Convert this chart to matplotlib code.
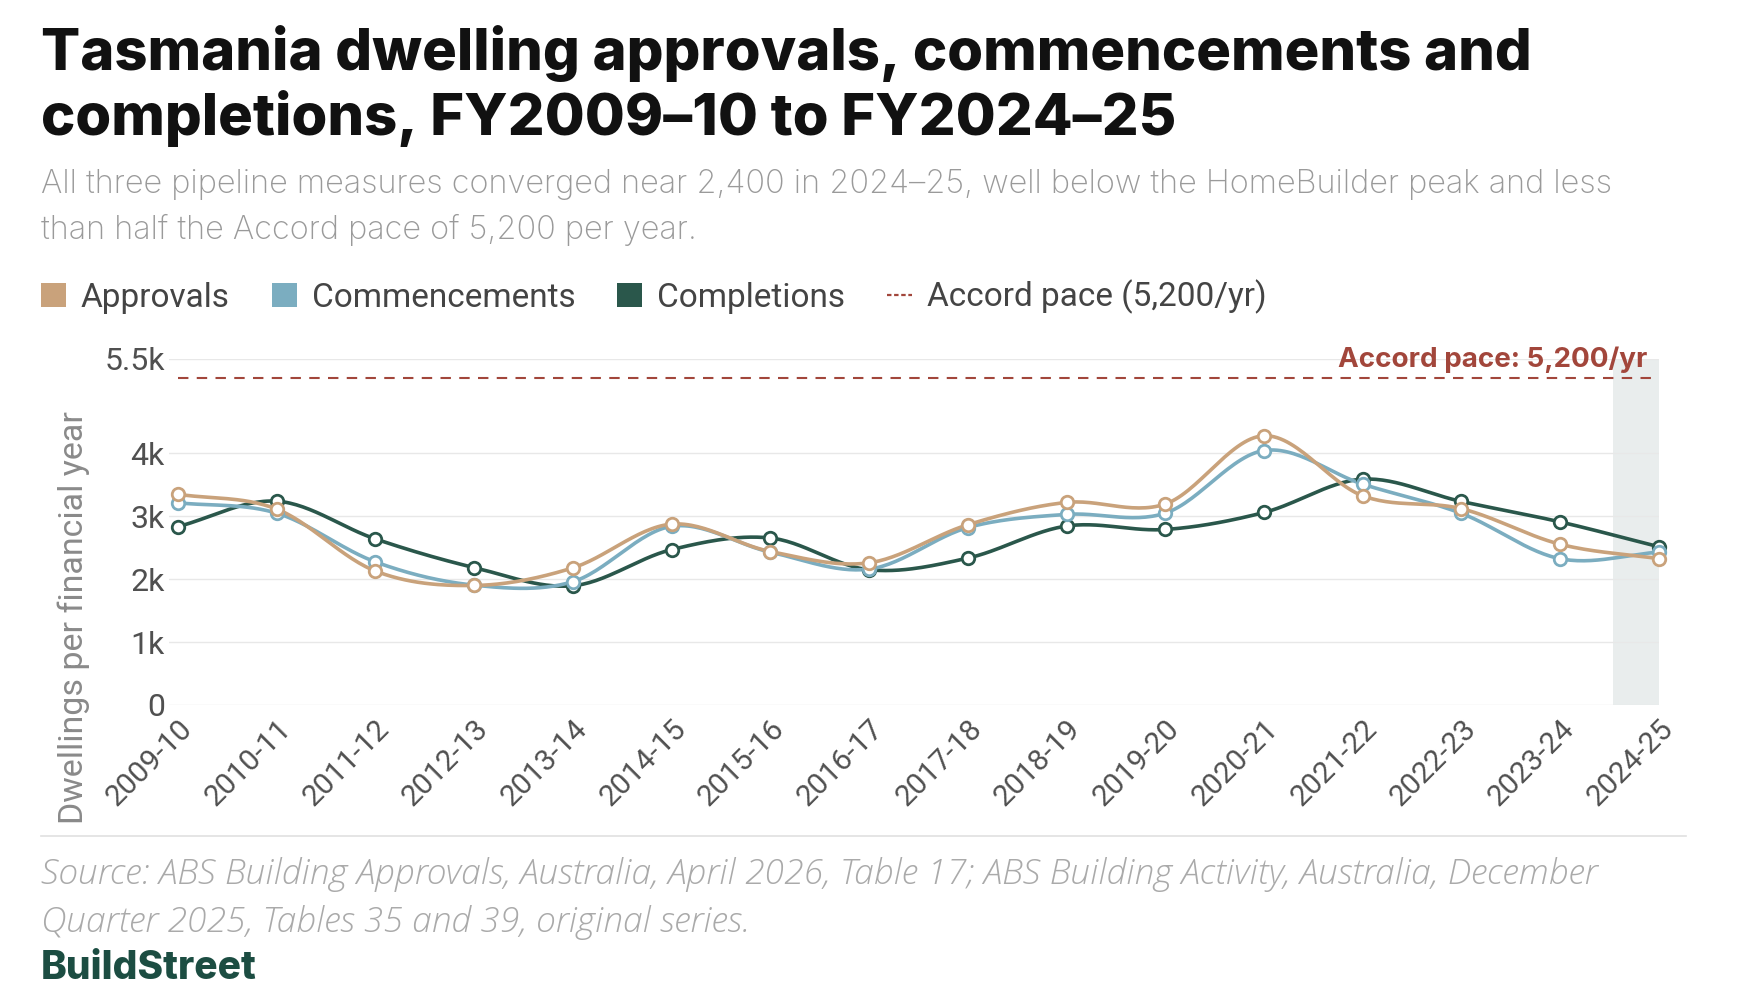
import numpy as np
import matplotlib
matplotlib.use("Agg")
import matplotlib.pyplot as plt
from matplotlib.patches import Patch
from matplotlib.lines import Line2D

years = ["2009-10", "2010-11", "2011-12", "2012-13", "2013-14", "2014-15", "2015-16",
         "2016-17", "2017-18", "2018-19", "2019-20", "2020-21", "2021-22", "2022-23",
         "2023-24", "2024-25"]
approvals = [3350, 3115, 2130, 1900, 2180, 2875, 2440, 2260, 2865, 3220, 3195, 4280,
             3325, 3120, 2555, 2325]
commencements = [3215, 3050, 2275, 1905, 1960, 2840, 2430, 2160, 2820, 3030, 3050, 4045,
                 3510, 3045, 2325, 2430]
completions = [2835, 3240, 2640, 2185, 1895, 2470, 2655, 2150, 2335, 2845, 2790, 3060,
               3590, 3235, 2910, 2515]
accord_pace = 5200
ytick_vals = [0, 1000, 2000, 3000, 4000, 5500]
ytick_labels = ["0", "1k", "2k", "3k", "4k", "5.5k"]

C_APP = "#c9a27b"
C_COM = "#7badc0"
C_CMP = "#2a574b"
C_ACC = "#a2463b"

FONT = "Inter"
FONT2 = "Roboto"


def smooth(xs, ys, n=30):
    xs = np.asarray(xs, float)
    ys = np.asarray(ys, float)
    m = np.zeros_like(ys)
    m[1:-1] = (ys[2:] - ys[:-2]) / 2.0
    m[0] = (ys[1] - ys[0])
    m[-1] = (ys[-1] - ys[-2])
    ox, oy = [], []
    for i in range(len(xs) - 1):
        t = np.linspace(0, 1, n, endpoint=(i == len(xs) - 2))
        h00 = 2 * t**3 - 3 * t**2 + 1
        h10 = t**3 - 2 * t**2 + t
        h01 = -2 * t**3 + 3 * t**2
        h11 = t**3 - t**2
        ox.append(xs[i] + t * (xs[i + 1] - xs[i]))
        oy.append(h00 * ys[i] + h10 * m[i] + h01 * ys[i + 1] + h11 * m[i + 1])
    return np.concatenate(ox), np.concatenate(oy)


fig = plt.figure(figsize=(17.6, 10), dpi=100)
fig.patch.set_facecolor("white")

ax = fig.add_axes([0.096, 0.295, 0.9426 - 0.096, 0.346])
x = np.arange(len(years))
ax.set_xlim(-0.09, len(years) - 1)
ax.set_ylim(0, 5500)

ax.axvspan(14.53, 15, color="#e9eded", zorder=0, lw=0)
for v in ytick_vals:
    ax.axhline(v, color="#e8e8e8", lw=1.0, zorder=0.5)

ax.axhline(accord_pace, xmin=0.09 / 15.09, color=C_ACC, lw=1.5, ls=(0, (5, 4)), zorder=1)
ax.text(14.88, accord_pace + 70, "Accord pace: 5,200/yr", color=C_ACC, fontsize=20,
        fontweight="bold", family=FONT, ha="right", va="bottom")

for series, col in [(completions, C_CMP), (commencements, C_COM), (approvals, C_APP)]:
    sx, sy = smooth(x, series)
    ax.plot(sx, sy, color=col, lw=2.6, zorder=3, solid_capstyle="round")
    ax.plot(x, series, ls="none", marker="o", ms=9, mfc="white", mec=col, mew=2.0,
            zorder=4, clip_on=False)

ax.set_yticks(ytick_vals)
ax.set_yticklabels(ytick_labels, family=FONT2, fontsize=23, color="#505050")
ax.set_xticks(x)
ax.set_xticklabels(years, rotation=45, ha="right", va="top", rotation_mode="anchor",
                   family=FONT2, fontsize=21.5, color="#505050")
ax.tick_params(axis="y", length=0, pad=3)
ax.tick_params(axis="x", length=0, pad=7)
for s in ax.spines.values():
    s.set_visible(False)

fig.text(0.042, 0.383, "Dwellings per financial year", rotation=90, ha="center",
         va="center", family=FONT2, fontsize=24.5, color="#8a8a8a")

# Titles
fig.text(0.0233, 0.930, "Tasmania dwelling approvals, commencements and",
         family=FONT, fontweight="heavy", fontsize=41.7, color="#111111",
         va="baseline", ha="left")
fig.text(0.0233, 0.865, "completions, FY2009\u201310 to FY2024\u201325",
         family=FONT, fontweight="heavy", fontsize=41.7, color="#111111",
         va="baseline", ha="left")
fig.text(0.0233, 0.807, "All three pipeline measures converged near 2,400 in 2024\u201325, well below the HomeBuilder peak and less",
         family=FONT, fontweight="light", fontsize=23.4, color="#9a9a9a",
         va="baseline", ha="left")
fig.text(0.0233, 0.761, "than half the Accord pace of 5,200 per year.",
         family=FONT, fontweight="light", fontsize=23.4, color="#9a9a9a",
         va="baseline", ha="left")

# Legend
handles = [Patch(facecolor=C_APP, edgecolor="none"),
           Patch(facecolor=C_COM, edgecolor="none"),
           Patch(facecolor=C_CMP, edgecolor="none"),
           Line2D([0], [0], color=C_ACC, lw=1.6, ls=(0, (2, 1.2)))]
labels = ["Approvals", "Commencements", "Completions", "Accord pace (5,200/yr)"]
leg = fig.legend(handles, labels, loc="center left", bbox_to_anchor=(0.0233, 0.703),
                 ncol=4, frameon=False, handlelength=0.75, handleheight=0.75,
                 handletextpad=0.45, columnspacing=1.25, borderpad=0, borderaxespad=0,
                 prop={"family": FONT2, "size": 24})
for t in leg.get_texts():
    t.set_color("#444444")
leg.legend_handles[3].set_linewidth(1.6)

# Separator line
fig.add_artist(Line2D([0.0233, 0.958], [0.164, 0.164], transform=fig.transFigure,
                      color="#e0e0e0", lw=1.2))

fig.text(0.0233, 0.116, "Source: ABS Building Approvals, Australia, April 2026, Table 17; ABS Building Activity, Australia, December",
         family="Open Sans", style="italic", fontsize=25.5, color="#aaaaaa",
         va="baseline", ha="left", fontweight="light")
fig.text(0.0233, 0.068, "Quarter 2025, Tables 35 and 39, original series.",
         family="Open Sans", style="italic", fontsize=25.5, color="#aaaaaa",
         va="baseline", ha="left", fontweight="light")
fig.text(0.0233, 0.021, "BuildStreet", family=FONT, fontweight="heavy", fontsize=28,
         color="#1c4d42", va="baseline", ha="left")

fig.savefig("out.png", dpi=100, facecolor="white")
